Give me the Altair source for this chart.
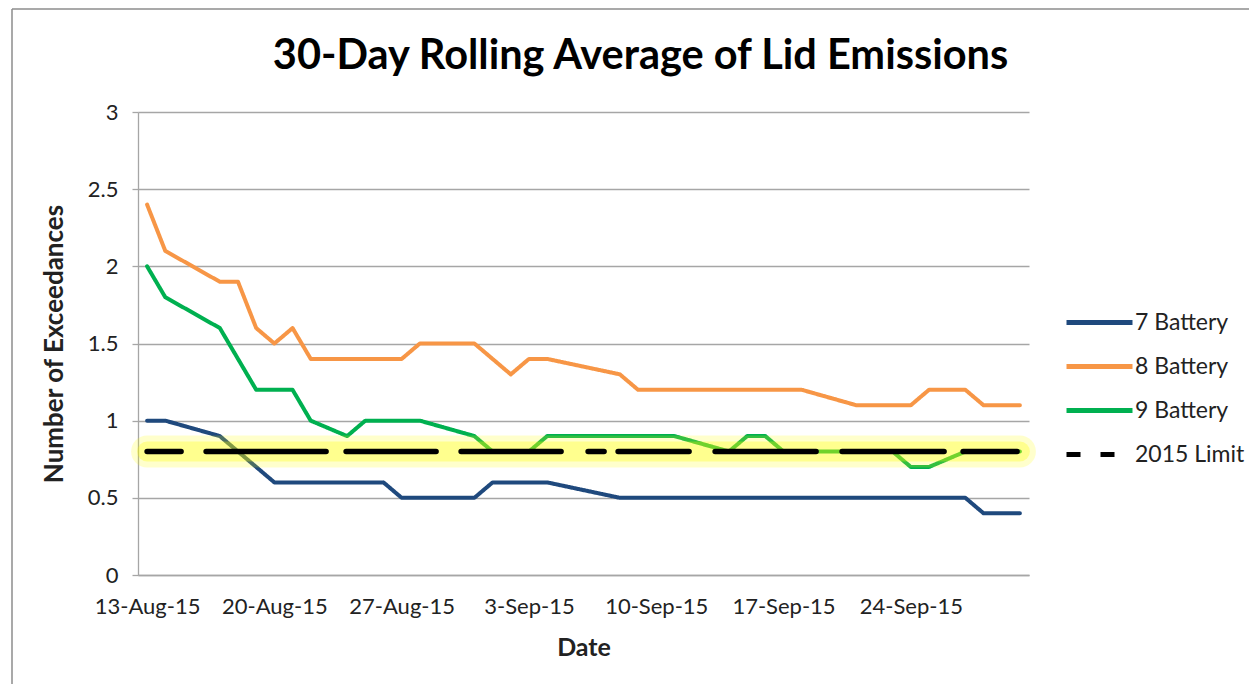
import altair as alt
import pandas as pd

# ---------------- data (vertices) ----------------
series_names = ["7 Battery", "8 Battery", "9 Battery", "2015 Limit"]
series_colors = ["#1f497d", "#f79646", "#00b050", "#000000"]

dates_7 = ["2015-08-13", "2015-08-14", "2015-08-17", "2015-08-20", "2015-08-26",
           "2015-08-27", "2015-08-31", "2015-09-01", "2015-09-04", "2015-09-08",
           "2015-09-27", "2015-09-28", "2015-09-30"]
vals_7 = [1.0, 1.0, 0.9, 0.6, 0.6, 0.5, 0.5, 0.6, 0.6, 0.5, 0.5, 0.4, 0.4]

dates_8 = ["2015-08-13", "2015-08-14", "2015-08-17", "2015-08-18", "2015-08-19",
           "2015-08-20", "2015-08-21", "2015-08-22", "2015-08-27", "2015-08-28",
           "2015-08-31", "2015-09-02", "2015-09-03", "2015-09-04", "2015-09-08",
           "2015-09-09", "2015-09-18", "2015-09-21", "2015-09-24", "2015-09-25",
           "2015-09-27", "2015-09-28", "2015-09-30"]
vals_8 = [2.4, 2.1, 1.9, 1.9, 1.6, 1.5, 1.6, 1.4, 1.4, 1.5, 1.5, 1.3, 1.4, 1.4,
          1.3, 1.2, 1.2, 1.1, 1.1, 1.2, 1.2, 1.1, 1.1]

dates_9 = ["2015-08-13", "2015-08-14", "2015-08-17", "2015-08-19", "2015-08-21",
           "2015-08-22", "2015-08-24", "2015-08-25", "2015-08-28", "2015-08-31",
           "2015-09-01", "2015-09-03", "2015-09-04", "2015-09-11", "2015-09-14",
           "2015-09-15", "2015-09-16", "2015-09-17", "2015-09-23", "2015-09-24",
           "2015-09-25", "2015-09-27", "2015-09-30"]
vals_9 = [2.0, 1.8, 1.6, 1.2, 1.2, 1.0, 0.9, 1.0, 1.0, 0.9, 0.8, 0.8, 0.9, 0.9,
          0.8, 0.9, 0.9, 0.8, 0.8, 0.7, 0.7, 0.8, 0.8]

dates_limit = ["2015-08-13", "2015-09-30"]
vals_limit = [0.8, 0.8]

y_ticks = [0, 0.5, 1, 1.5, 2, 2.5, 3]
x_tick_days = [13, 20, 27, 34, 41, 48, 55]  # days counted from 1-Aug-15

# ---------------- tables ----------------
df_b = pd.concat([
    pd.DataFrame({"date": dates_7, "value": vals_7, "series": "7 Battery"}),
    pd.DataFrame({"date": dates_8, "value": vals_8, "series": "8 Battery"}),
    pd.DataFrame({"date": dates_9, "value": vals_9, "series": "9 Battery"}),
], ignore_index=True)
df_l = pd.DataFrame({"date": dates_limit, "value": vals_limit, "series": "2015 Limit"})

FONT = "Lato"
TXT = "#222222"
GRID = "#a6a6a6"


def dt(day, hours=0):
    month = 8
    if day > 31:
        day -= 31
        month = 9
    return alt.DateTime(year=2015, month=month, date=day, hours=hours, utc=True)


x_enc = alt.X(
    "date:T",
    scale=alt.Scale(type="utc", domain=[dt(12, 12), dt(61, 12)], nice=False),
    axis=alt.Axis(
        values=[dt(d) for d in x_tick_days],
        format="%-d-%b-%y",
        grid=False, ticks=False,
        domainColor=GRID, domainWidth=1.3,
        labelFont=FONT, labelFontSize=22, labelColor=TXT, labelPadding=21,
        titleFont=FONT, titleFontSize=25, titleFontWeight="bold", titleColor=TXT,
        titlePadding=18,
    ),
    title="Date",
)
y_enc = alt.Y(
    "value:Q",
    scale=alt.Scale(domain=[0, 3], nice=False),
    axis=alt.Axis(
        values=y_ticks, format="~g",
        grid=True, gridColor=GRID, gridWidth=1.3,
        ticks=True, tickColor=GRID, tickSize=6, tickWidth=1.3,
        domainColor=GRID, domainWidth=1.3,
        labelFont=FONT, labelFontSize=22, labelColor=TXT, labelPadding=14,
        titleFont=FONT, titleFontSize=26, titleFontWeight="bold", titleColor=TXT,
        titlePadding=20,
    ),
    title="Number of Exceedances",
)

leg = dict(orient="none", legendX=948, legendY=197)

batteries = alt.Chart(df_b).mark_line(strokeWidth=4, strokeJoin="round", strokeCap="round").encode(
    x=x_enc,
    y=y_enc,
    color=alt.Color("series:N",
                    scale=alt.Scale(domain=series_names, range=series_colors),
                    legend=alt.Legend(**leg), title=None),
    strokeDash=alt.StrokeDash("series:N",
                              scale=alt.Scale(domain=series_names,
                                              range=[[1, 0], [1, 0], [1, 0], [14, 20]]),
                              legend=alt.Legend(**leg), title=None),
)

glow_outer = alt.Chart(df_l).mark_line(color="#ffff00", strokeWidth=32, opacity=0.2,
                                       strokeCap="round").encode(x=x_enc, y=y_enc)
glow_inner = alt.Chart(df_l).mark_line(color="#ffff00", strokeWidth=20, opacity=0.3,
                                       strokeCap="round").encode(x=x_enc, y=y_enc)
limit = alt.Chart(df_l).mark_line(
    color="#000000", strokeWidth=5.5, strokeCap="round",
    strokeDash=[34, 25, 120, 20, 90, 25, 100, 27, 16, 14, 71, 26, 101, 26, 102, 19, 54, 60],
).encode(x=x_enc, y=y_enc)

# outer chart-area border (left and top edges)
frame_df = pd.DataFrame({"k": [0]})
border_left = alt.Chart(frame_df).mark_rule(color="#8c8c8c", strokeWidth=1.5).encode(
    x=alt.value(-126), y=alt.value(-103), y2=alt.value(600))
border_top = alt.Chart(frame_df).mark_rule(color="#8c8c8c", strokeWidth=1.5).encode(
    x=alt.value(-126), x2=alt.value(1150), y=alt.value(-103))

chart = alt.layer(
    border_left, border_top, batteries, glow_outer, glow_inner, limit
).properties(
    width=891,
    height=463,
    autosize="none",
    padding={"left": 130, "top": 104, "right": 220, "bottom": 109},
    title=alt.TitleParams(
        "30-Day Rolling Average of Lid Emissions",
        font=FONT, fontSize=41.5, fontWeight="bold", color="#000000",
        anchor="middle", dx=57, offset=38, dy=107,
    ),
).configure_view(
    stroke=None
).configure_legend(
    symbolType="M-3,0L3,0", symbolSize=484, symbolStrokeWidth=5,
    labelFont=FONT, labelFontSize=23, labelColor=TXT, labelOffset=22,
    rowPadding=18, padding=0,
)

chart.save("out.html", embed_options={"renderer": "svg", "actions": False})
